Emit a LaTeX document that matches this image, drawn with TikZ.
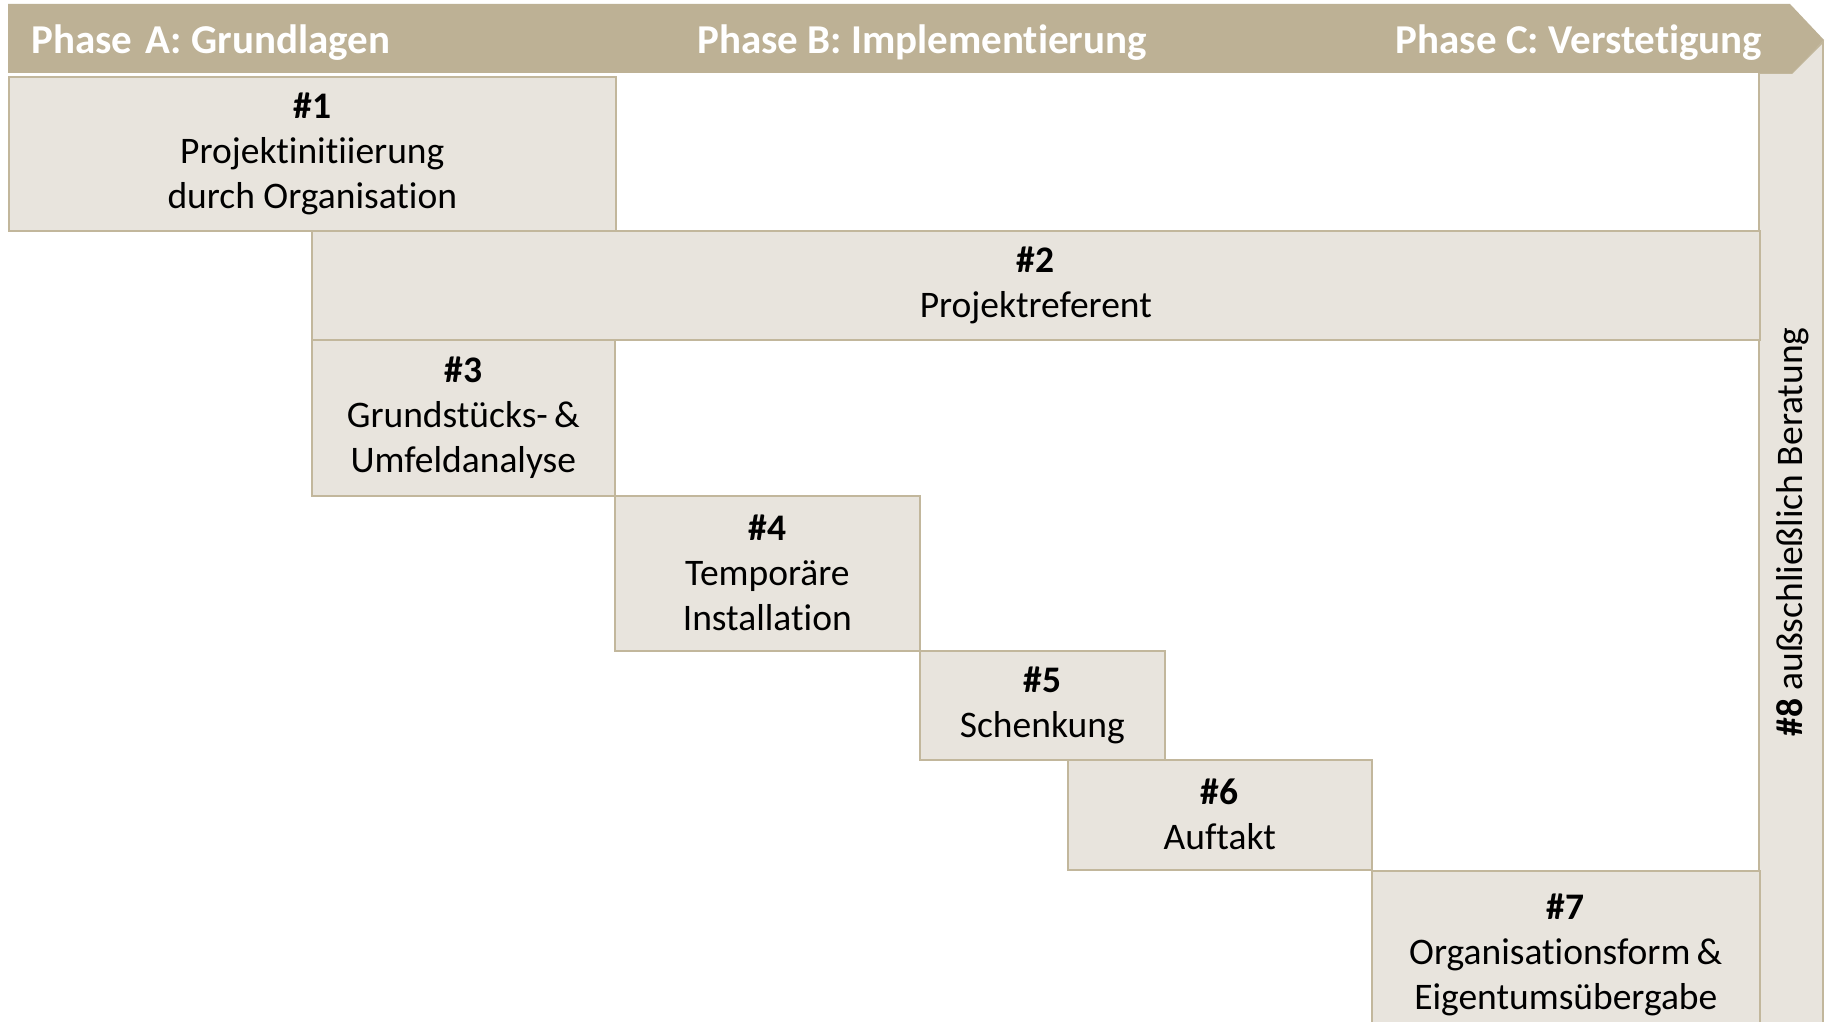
\documentclass[tikz,border=0pt]{standalone}
\usepackage{fontspec}
\setmainfont[Ligatures={NoCommon}]{Carlito}
\definecolor{tanc}{HTML}{BDB195}
\definecolor{boxfill}{HTML}{E8E4DD}
\definecolor{boxline}{HTML}{C2B79C}
\begin{document}
\begin{tikzpicture}[x=1pt,y=-1pt,
  stagebox/.style={draw=boxline,fill=boxfill,line width=1.6pt,anchor=north west,
    inner sep=0pt,align=center,font=\fontsize{37.5}{45}\selectfont,text=black},
  phaselbl/.style={text=white,font=\fontsize{41}{44}\selectfont\bfseries,inner sep=0pt}]
\clip (0,0) rectangle (1829,1022);
\fill[white] (0,0) rectangle (1829,1022);
% side bar #8
\filldraw[fill=boxfill,draw=boxline,line width=1.6pt] (1759,73) -- (1792,73) -- (1823,42) -- (1823,1040) -- (1759,1040) -- cycle;
% banner
\fill[tanc] (8,4) -- (1790,4) -- (1824,40) -- (1792,73) -- (8,73) -- cycle;
\node[phaselbl,anchor=base west] (pa) at (31,54) {Phase\,\,A: Grundlagen};
\node[phaselbl,anchor=base] (pb) at (922,54) {Phase B: Implementierung};
\node[phaselbl,anchor=base] (pc) at (1579,54) {Phase C: Verstetigung};
% boxes
\node[stagebox,minimum width=607,minimum height=154] (b1) at (8,76) {\textbf{\#1}\\Projektinitiierung\\durch Organisation};
\node[stagebox,minimum width=1448,minimum height=109] (b2) at (311,230) {\textbf{\#2}\\Projektreferent};
\node[stagebox,minimum width=303,minimum height=156] (b3) at (311,339) {\textbf{\#3}\\Grundstücks-\,\&\\Umfeldanalyse};
\node[stagebox,minimum width=305,minimum height=155] (b4) at (614,495) {\textbf{\#4}\\Temporäre\\Installation};
\node[stagebox,minimum width=245,minimum height=109] (b5) at (919,650) {\textbf{\#5}\\Schenkung};
\node[stagebox,minimum width=304,minimum height=110] (b6) at (1067,759) {\textbf{\#6}\\Auftakt};
\node[stagebox,minimum width=388,minimum height=168] (b7) at (1371,870) {\textbf{\#7}\\Organisationsform\,\&\\Eigentumsübergabe};
\node[rotate=90,font=\fontsize{37.5}{44}\selectfont,inner sep=0pt] (b8) at (1793,532) {\textbf{\#8} außschließlich Beratung};
\end{tikzpicture}
\end{document}
